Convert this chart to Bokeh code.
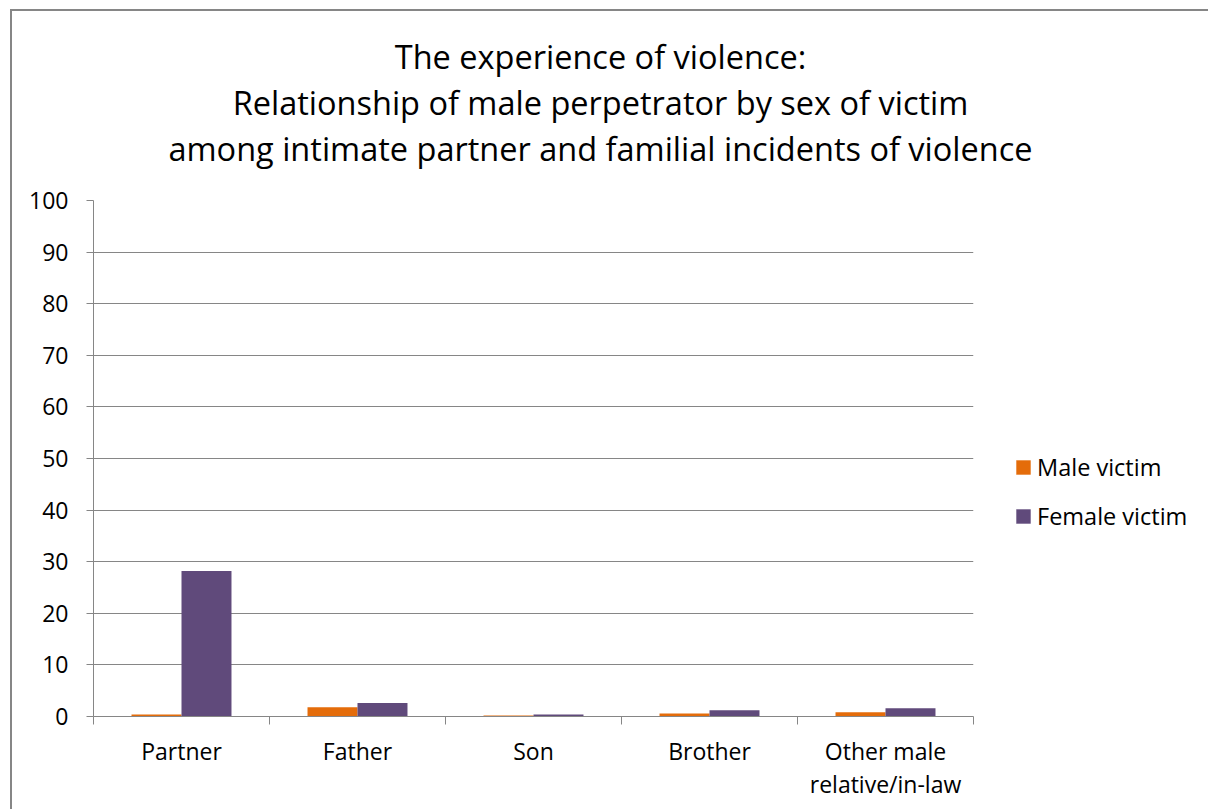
import numpy as np
from bokeh.plotting import figure
from bokeh.layouts import column, row
from bokeh.models import (ColumnDataSource, FixedTicker, Legend, LegendItem, Label, Range1d)
from bokeh.embed import file_html
from bokeh.resources import INLINE

categories = ["Partner", "Father", "Son", "Brother", "Other male\nrelative/in-law"]
male_victim = [0.4, 1.8, 0.2, 0.6, 0.8]
female_victim = [28.2, 2.6, 0.4, 1.2, 1.6]
y_ticks = [0, 10, 20, 30, 40, 50, 60, 70, 80, 90, 100]
series_names = ["Male victim", "Female victim"]
title_lines = [
    "The experience of violence:",
    "Relationship of male perpetrator by sex of victim",
    "among intimate partner and familial incidents of violence",
]

FONT = "Open Sans"
ORANGE = "#E46C0A"
PURPLE = "#604A7B"
GRAY = "#868686"

n = len(categories)
centers = np.arange(n) + 0.5
bar_w = 0.284

src = ColumnDataSource(dict(
    x_m=centers - bar_w / 2,
    x_f=centers + bar_w / 2,
    male=male_victim,
    female=female_victim,
))

# ---------------- title strip ----------------
pt = figure(width=1196, height=169, x_axis_type=None, y_axis_type=None,
            output_backend="svg", toolbar_location=None, min_border=0)
pt.outline_line_color = None
title_baselines = [124, 78, 32]   # px above the strip's bottom edge
for text, yb in zip(title_lines, title_baselines):
    pt.add_layout(Label(x=588, y=yb, x_units="screen", y_units="screen", text=text,
                        text_align="center", text_baseline="alphabetic",
                        text_font=FONT, text_font_size="32.5px", text_color="black"))

# ---------------- main chart ----------------
p = figure(
    width=966, height=629,
    x_range=Range1d(0, n), y_range=Range1d(0, 100),
    output_backend="svg", toolbar_location=None,
    min_border_left=81, min_border_right=5,
    min_border_top=20, min_border_bottom=93,
)
p.outline_line_color = None

r1 = p.vbar(x="x_m", top="male", width=bar_w, bottom=0, source=src,
            fill_color=ORANGE, line_color=None)
r2 = p.vbar(x="x_f", top="female", width=bar_w, bottom=0, source=src,
            fill_color=PURPLE, line_color=None)

xa = p.xaxis[0]
xa.ticker = FixedTicker(ticks=list(centers), minor_ticks=list(range(n + 1)))
xa.major_label_overrides = {float(c): cat for c, cat in zip(centers, categories)}
xa.major_tick_out = 0
xa.major_tick_in = 0
xa.minor_tick_out = 8
xa.minor_tick_in = 0
xa.minor_tick_line_color = GRAY
xa.axis_line_color = GRAY
xa.major_label_text_font = FONT
xa.major_label_text_font_size = "23px"
xa.major_label_text_line_height = 1.05
xa.major_label_text_color = "black"
xa.major_label_standoff = 10
p.xgrid.visible = False

ya = p.yaxis[0]
ya.ticker = FixedTicker(ticks=y_ticks, minor_ticks=[])
ya.major_tick_out = 7
ya.major_tick_in = 0
ya.major_tick_line_color = GRAY
ya.axis_line_color = GRAY
ya.major_label_text_font = FONT
ya.major_label_text_font_size = "23px"
ya.major_label_text_color = "black"
ya.major_label_standoff = 18
p.ygrid.ticker = FixedTicker(ticks=y_ticks)
p.ygrid.grid_line_color = GRAY
p.ygrid.grid_line_width = 1

# ---------------- legend strip ----------------
# legend swatches: zero-height bars (nothing visible) that carry the series colours
legend_src = ColumnDataSource(dict(x=[0.5], top=[0.0]))
pl = figure(width=230, height=629, x_axis_type=None, y_axis_type=None,
            x_range=Range1d(0, 1), y_range=Range1d(0, 1),
            output_backend="svg", toolbar_location=None, min_border=0)
pl.outline_line_color = None
l1 = pl.vbar(x="x", top="top", width=bar_w, bottom=0, source=legend_src,
             fill_color=ORANGE, line_color=None)
l2 = pl.vbar(x="x", top="top", width=bar_w, bottom=0, source=legend_src,
             fill_color=PURPLE, line_color=None)
legend = Legend(
    items=[LegendItem(label=series_names[0], renderers=[l1]),
           LegendItem(label=series_names[1], renderers=[l2])],
    location=(36, 184), orientation="vertical",
    glyph_width=18, glyph_height=18, label_standoff=5,
    label_text_font=FONT, label_text_font_size="23.5px", label_text_color="black",
    spacing=17, border_line_color=None, background_fill_alpha=0,
    padding=0, margin=0,
)
pl.add_layout(legend, "center")

layout = column(pt, row(p, pl))
layout.styles = {"border-top": "2px solid #868686", "border-left": "2px solid #868686",
                 "margin-left": "10px", "margin-top": "9px", "background-color": "white"}

open("out.html", "w").write(file_html(layout, INLINE))
